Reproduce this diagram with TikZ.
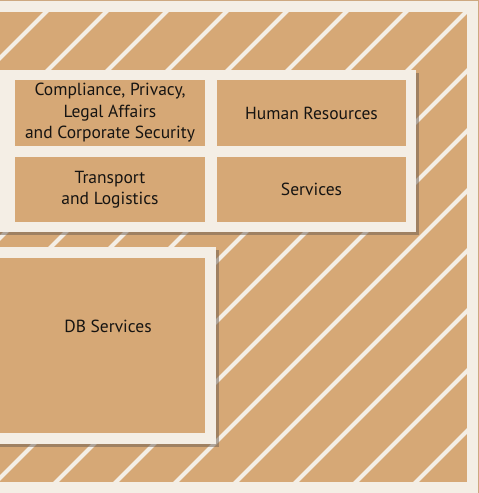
\documentclass[tikz,border=0pt]{standalone}
\usepackage{fontspec}
\setmainfont{PT Sans}
\usepackage{xcolor}
\definecolor{cardtan}{RGB}{214, 168, 118}
\definecolor{cardwhite}{RGB}{244, 238, 229}
\definecolor{cardedge}{RGB}{205, 168, 128}
\definecolor{cardshadow}{RGB}{105, 92, 80}
\definecolor{cardtext}{RGB}{22, 20, 18}

\tikzset{
    cell/.style={rectangle, fill=cardtan, inner sep=0pt, text=cardtext,
        font=\fontsize{17.5}{21.5}\selectfont, align=center},
    celltext/.style={inner sep=0pt, text=cardtext, font=\fontsize{17.5}{21.5}\selectfont, align=center},
    panel/.style={fill=cardwhite},
    panelshadow/.style={fill=cardshadow, opacity=0.5}
}

\begin{document}
\begin{tikzpicture}[x=1pt, y=-1pt]
                \useasboundingbox (0,0) rectangle (479,493);

                % Outer frame
                \fill[cardwhite] (0,0) rectangle (479,493);
                \draw[cardedge, line width=1pt] (-2,0.5) -- (478.5,0.5) -- (478.5,495);
                \fill[cardtan] (0,12) rectangle (467,482);

                % Diagonal stripes
                \begin{scope}
                    \clip (0,12) rectangle (467,482);
                    \foreach \c in {-2,58,...,958} {
                        \draw[cardwhite, line width=4pt] (\c,0) -- (\c-500,500);
                    }
                \end{scope}

                % Upper panel
                \fill[panelshadow] (-2,72.5) rectangle (418.5,234.5);
                \fill[panel] (-4,70) rectangle (416,232);
                \node[cell, minimum width=190, minimum height=66] (compliance) at (110,113) {Compliance, Privacy,\\Legal Affairs\\and Corporate Security};
                \node[cell, minimum width=189, minimum height=66] (humanres) at (311.5,113) {Human Resources};
                \node[cell, minimum width=190, minimum height=65] (transport) at (110,189.5) {Transport\\and Logistics};
                \node[cell, minimum width=189, minimum height=65] (services) at (311.5,189.5) {Services};

                % Lower panel
                \fill[panelshadow] (-2,249.5) rectangle (218.5,446.5);
                \fill[panel] (-6,247) rectangle (216,444);
                \node[cell, minimum width=215, minimum height=175] (dbcell) at (97.5,345.5) {};
                \node[celltext] (dblabel) at (108,326) {DB Services};
            \end{tikzpicture}
\end{document}
